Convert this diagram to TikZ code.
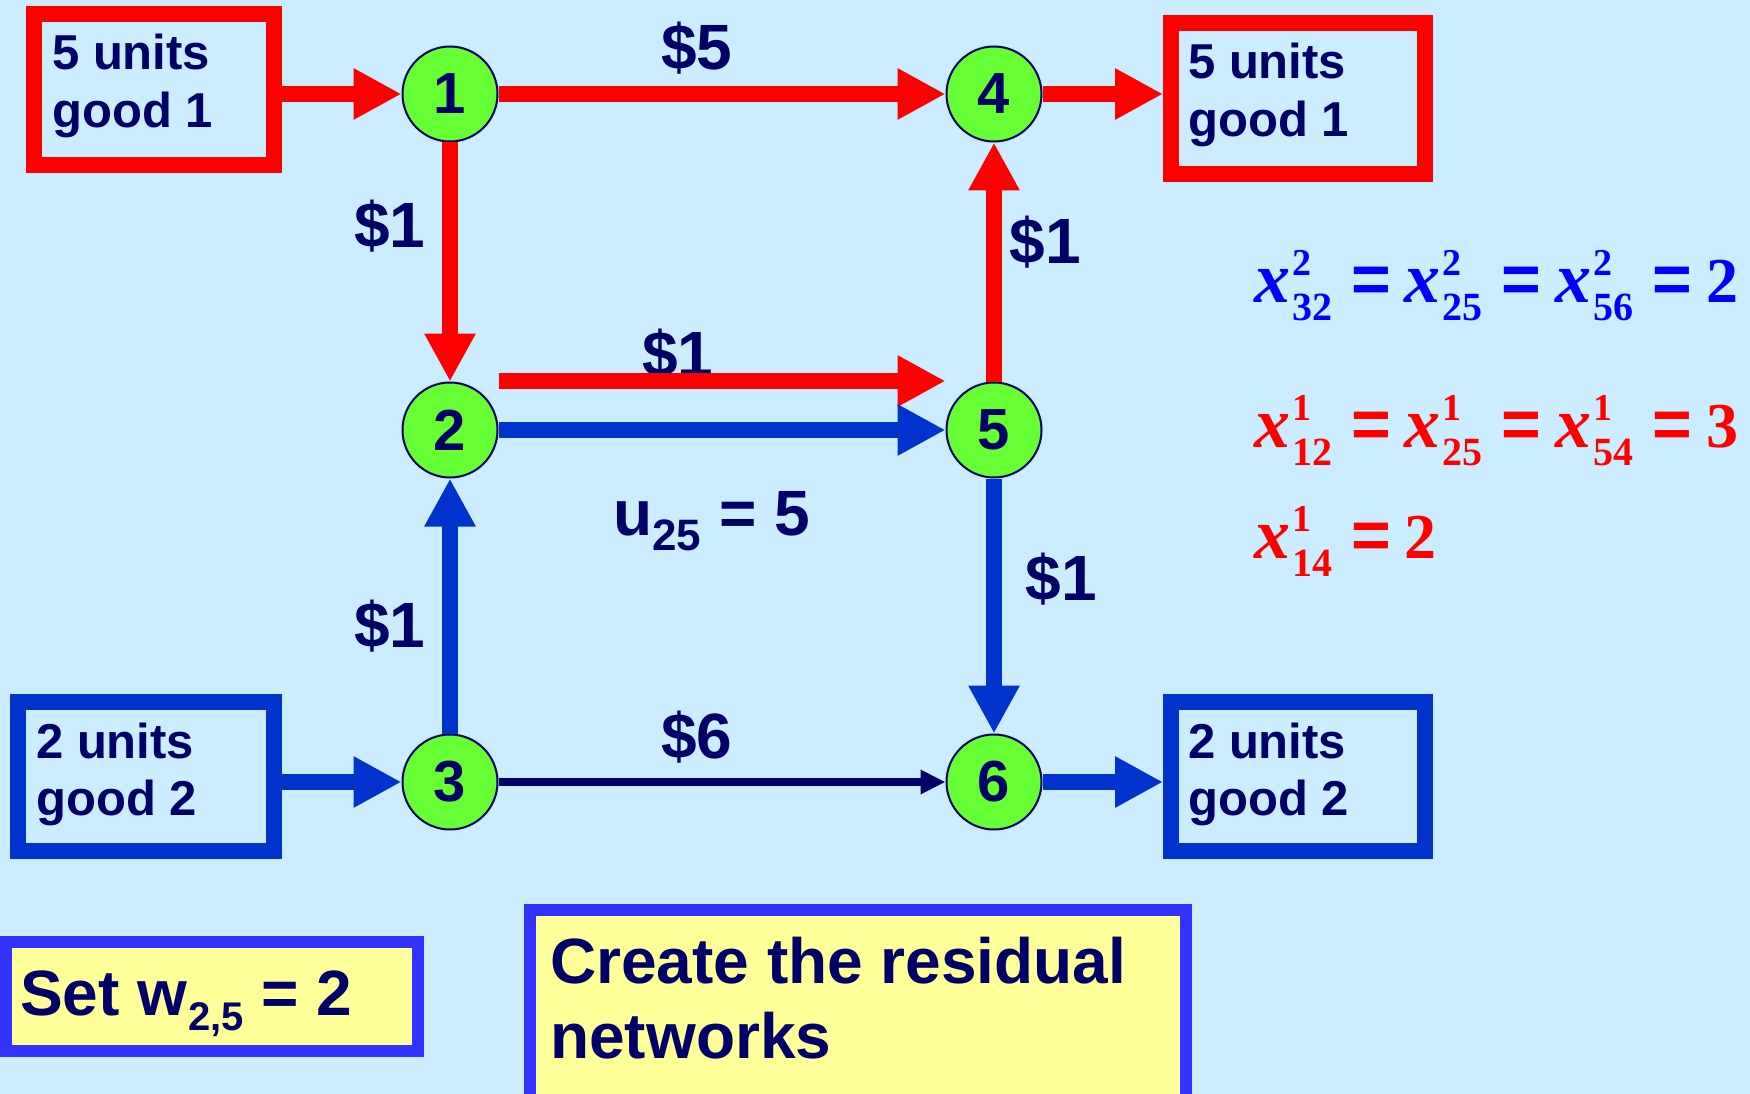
\documentclass[tikz,border=0pt]{standalone}
\usepackage{fontspec}
\setmainfont{Liberation Sans}
\setsansfont{Liberation Sans}
\newfontfamily\tms{Liberation Serif}
\usetikzlibrary{arrows.meta}
\definecolor{bg}{HTML}{CCECFF}
\definecolor{rd}{HTML}{FF0000}
\definecolor{bl}{HTML}{0033CC}
\definecolor{nv}{HTML}{000066}
\definecolor{gr}{HTML}{66FF33}
\definecolor{yl}{HTML}{FFFF99}
\definecolor{yb}{HTML}{3333FF}
\definecolor{eqb}{HTML}{0000FF}
\newcommand\xs[2]{{\fontsize{72}{72}\selectfont\itshape x}\hspace{2pt}\rlap{\raisebox{27pt}{\fontsize{38}{38}\selectfont\bfseries #1}}\raisebox{-18pt}{\fontsize{40}{40}\selectfont\bfseries #2}}
\newcommand\eqs{\hspace{19pt}{\sffamily\bfseries\fontsize{68}{68}\selectfont =}\hspace{14pt}}
\begin{document}
\begin{tikzpicture}[x=1pt,y=-1pt,
  every node/.style={text=nv},
  circ/.style={circle, fill=gr, draw=nv, line width=2pt, minimum size=95pt, inner sep=0pt, font=\fontsize{58}{58}\selectfont\bfseries},
  rbox/.style={draw=rd, line width=16pt, inner sep=0pt},
  bbox/.style={draw=bl, line width=16pt, inner sep=0pt},
  ybox/.style={draw=yb, fill=yl, line width=12pt, inner sep=0pt},
  lbl/.style={anchor=base, inner sep=0pt, font=\fontsize{64}{64}\selectfont\bfseries},
  btx/.style={anchor=base west, inner sep=0pt, font=\fontsize{49}{49}\selectfont\bfseries},
  bigtx/.style={anchor=base west, inner sep=0pt, font=\fontsize{64}{64}\selectfont\bfseries},
  eqn/.style={anchor=base west, inner sep=0pt, font=\tms\fontsize{64}{64}\selectfont\bfseries},
  redarr/.style={draw=rd, line width=16pt, -{Triangle[length=48pt,width=48pt]}},
  bluarr/.style={draw=bl, line width=16pt, -{Triangle[length=48pt,width=48pt]}},
  thinarr/.style={draw=nv, line width=8pt, -{Triangle[length=25pt,width=23pt]}}
]
\useasboundingbox (0,0) rectangle (1750,1094);
\fill[bg] (0,0) rectangle (1750,1094);

% nodes
\node[circ] (n1) at (450,94) {1};
\node[circ] (n4) at (994,94) {4};
\node[circ] (n2) at (450,430) {2};
\node[circ] (n5) at (994,430) {5};
\node[circ] (n3) at (450,782) {3};
\node[circ] (n6) at (994,782) {6};

% boxes
\node[rbox, minimum width=240pt, minimum height=151pt] (g1) at (154,89.5) {};
\node[rbox, minimum width=254pt, minimum height=151pt] (g4) at (1298,98.5) {};
\node[bbox, minimum width=256pt, minimum height=149pt] (g3) at (146,776.5) {};
\node[bbox, minimum width=254pt, minimum height=149pt] (g6) at (1298,776.5) {};

\node[btx] (g1a) at (52,70) {5 units};
\node[btx] (g1b) at (52,128) {good 1};
\node[btx] (g4a) at (1188,79) {5 units};
\node[btx] (g4b) at (1188,137) {good 1};
\node[btx] (g3a) at (36,758) {2 units};
\node[btx] (g3b) at (36,815) {good 2};
\node[btx] (g6a) at (1188,758) {2 units};
\node[btx] (g6b) at (1188,815) {good 2};

% labels
\node[lbl] (c14) at (697,70) {\$5};
\node[lbl] (c12) at (390,247) {\$1};
\node[lbl] (c54) at (1045,263) {\$1};
\node[lbl] (c25) at (678,376) {\$1};
\node[lbl] (c32) at (390,647) {\$1};
\node[lbl] (c56) at (1061,600) {\$1};
\node[lbl] (c36) at (697,758) {\$6};
\node[anchor=base west, inner sep=0pt, font=\fontsize{64}{64}\selectfont\bfseries] (u25) at (613,535) {u\raisebox{-15pt}{\fontsize{44}{44}\selectfont 25} = 5};

% arrows
\draw[redarr] (g1.east |- n1) -- (n1);
\draw[redarr] (n1) -- (n4);
\draw[redarr] (n4) -- (n4 -| g4.west);
\draw[redarr] (n1) -- (n2);
\draw[redarr] ([yshift=49pt]n2.east) -- ([yshift=49pt]n5.west);
\draw[bluarr] (n2) -- (n5);
\draw[redarr] (n5) -- (n4);
\draw[bluarr] (n3) -- (n2);
\draw[bluarr] (n5) -- (n6);
\draw[bluarr] (g3.east |- n3) -- (n3);
\draw[thinarr] (n3) -- (n6);
\draw[bluarr] (n6) -- (n6 -| g6.west);

% equations
\node[eqn, text=eqb] (e1) at (1254,302) {\xs{2}{32}\eqs\xs{2}{25}\eqs\xs{2}{56}\eqs 2};
\node[eqn, text=rd] (e2) at (1254,447) {\xs{1}{12}\eqs\xs{1}{25}\eqs\xs{1}{54}\eqs 3};
\node[eqn, text=rd] (e3) at (1254,558) {\xs{1}{14}\eqs 2};

% bottom boxes
\node[ybox, minimum width=412pt, minimum height=109pt] (wbox) at (211.5,996) {};
\node[bigtx] (wtxt) at (20,1015) {Set w\hspace{1pt}\raisebox{-15pt}{\fontsize{40}{40}\selectfont 2,5} = 2};
\node[ybox, minimum width=656pt, minimum height=200pt, anchor=north west] (cbox) at (524,904) {};
\node[bigtx] (ct1) at (550,983) {Create the residual};
\node[bigtx] (ct2) at (550,1058) {networks};
\end{tikzpicture}
\end{document}
